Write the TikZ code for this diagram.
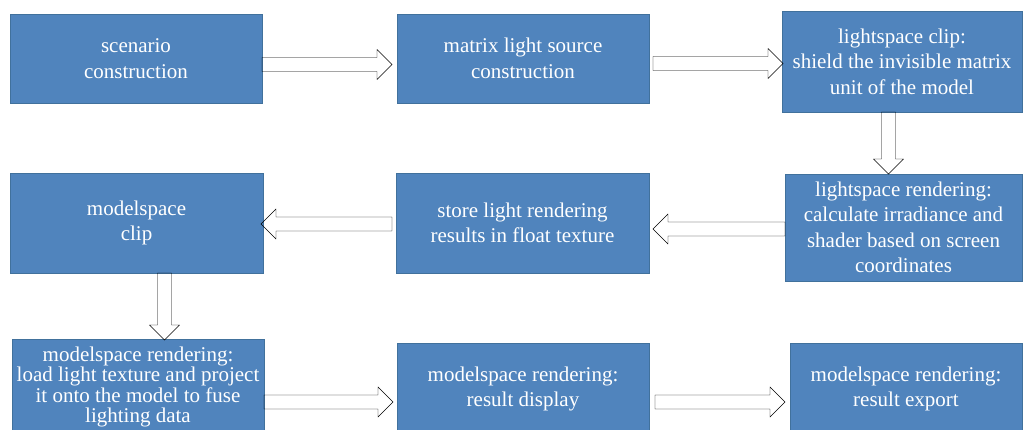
\documentclass[tikz,border=0pt]{standalone}
\usepackage{fontspec}
\setmainfont{Liberation Serif}
\usetikzlibrary{calc}
\definecolor{boxblue}{HTML}{5084BD}
\definecolor{boxedge}{HTML}{41719C}
\definecolor{arrfill}{HTML}{F6FAEC}
\definecolor{arredge}{HTML}{9FB283}
\tikzset{
  box/.style={rectangle, anchor=north west, fill=boxblue, draw=boxedge, line width=0.6pt,
    inner sep=0pt, outer sep=0pt, align=center, text=white,
    font=\fontsize{21}{25.5}\selectfont},
  blk/.style={fill=arrfill, draw=arredge, line width=1.2pt, line join=miter},
  rarrow/.style={blk, to path={let \p1=(\tikztostart), \p2=(\tikztotarget) in
    (\x1,\y1+7pt) -- (\x2-15pt,\y1+7pt) -- (\x2-15pt,\y1+15pt) -- (\x2,\y1)
    -- (\x2-15pt,\y1-15pt) -- (\x2-15pt,\y1-7pt) -- (\x1,\y1-7pt) -- cycle}},
  larrow/.style={blk, to path={let \p1=(\tikztostart), \p2=(\tikztotarget) in
    (\x1,\y1+7pt) -- (\x2+15pt,\y1+7pt) -- (\x2+15pt,\y1+15pt) -- (\x2,\y1)
    -- (\x2+15pt,\y1-15pt) -- (\x2+15pt,\y1-7pt) -- (\x1,\y1-7pt) -- cycle}},
  darrow/.style={blk, to path={let \p1=(\tikztostart), \p2=(\tikztotarget) in
    (\x1-7pt,\y1) -- (\x1-7pt,\y2+15pt) -- (\x1-15pt,\y2+15pt) -- (\x1,\y2)
    -- (\x1+15pt,\y2+15pt) -- (\x1+7pt,\y2+15pt) -- (\x1+7pt,\y1) -- cycle}}
}
\begin{document}
\begin{tikzpicture}[x=1pt,y=-1pt]
\useasboundingbox[fill=white] (0,0) rectangle (1024,430);
\node[box, minimum width=252pt, minimum height=89pt] (b1) at (10,14) {scenario\\construction};
\node[box, minimum width=252pt, minimum height=89pt] (b2) at (397,14) {matrix light source\\construction};
\node[box, minimum width=240pt, minimum height=101pt] (b3) at (782,11) {lightspace clip:\\shield the invisible matrix\\unit of the model};
\node[box, minimum width=237pt, minimum height=107pt] (b4) at (785,174) {lightspace rendering:\\calculate irradiance and\\shader based on screen\\coordinates};
\node[box, minimum width=253pt, minimum height=100pt] (b5) at (396,173) {store light rendering\\results in float texture};
\node[box, minimum width=253pt, minimum height=100pt] (b6) at (10,173) {modelspace\\clip};
\node[box, minimum width=252pt, minimum height=96pt, font=\fontsize{21}{20.5}\selectfont] (b7) at (12,339) {modelspace rendering:\\load light texture and project\\it onto the model to fuse\\lighting data};
\node[box, minimum width=252pt, minimum height=92pt] (b8) at (397,343) {modelspace rendering:\\result display};
\node[box, minimum width=232pt, minimum height=92pt] (b9) at (790,343) {modelspace rendering:\\result export};

\draw ([yshift=-6pt]b1.east) to[rarrow] ([xshift=-5pt,yshift=-6pt]b2.west);
\draw ([xshift=4pt,yshift=-5pt]b2.east) to[rarrow] ([xshift=1pt,yshift=-5pt]b3.west);
\draw ([xshift=-13.5pt]b3.south) to[darrow] ([xshift=-13.5pt]b4.north);
\draw ([yshift=-1.5pt]b4.west) to[larrow] ([xshift=4pt,yshift=-1.5pt]b5.east);
\draw ([xshift=-4pt,yshift=-1pt]b5.west) to[larrow] ([xshift=-2pt,yshift=-1pt]b6.east);
\draw ([xshift=28pt]b6.south) to[darrow] ([xshift=28pt,yshift=-1pt]b7.north);
\draw ([yshift=-15pt]b7.east) to[rarrow] ([xshift=-4pt,yshift=-15pt]b8.west);
\draw ([xshift=6pt,yshift=-13pt]b8.east) to[rarrow] ([xshift=-5pt,yshift=-13pt]b9.west);
\end{tikzpicture}
\end{document}
